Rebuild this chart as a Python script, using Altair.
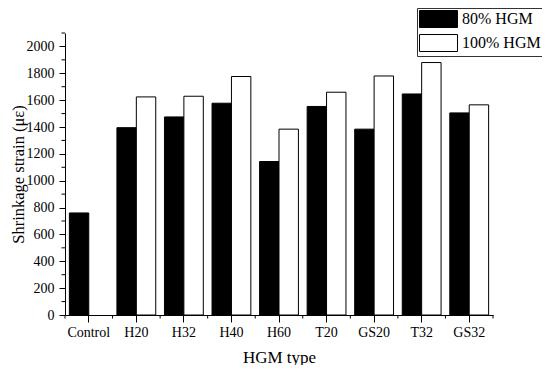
import altair as alt
import pandas as pd

categories = ["Control", "H20", "H32", "H40", "H60", "T20", "GS20", "T32", "GS32"]
series = ["80% HGM", "100% HGM"]
v80 = [760, 1395, 1475, 1577, 1143, 1553, 1384, 1646, 1505]
v100 = [None, 1624, 1629, 1776, 1384, 1659, 1780, 1880, 1565]
y_major = list(range(0, 2001, 200))
y_minor = list(range(100, 2101, 200))

rows = []
for c, a, b in zip(categories, v80, v100):
    if a is not None:
        rows.append({"cat": c, "series": series[0], "strain": a})
    if b is not None:
        rows.append({"cat": c, "series": series[1], "strain": b})
df = pd.DataFrame(rows)

W, H = 428, 282
FONT = "Liberation Serif"
YTITLE = "Shrinkage strain (με)"
XTITLE = "HGM type"

xscale = alt.Scale(domain=categories, paddingInner=0, paddingOuter=0)
yscale = alt.Scale(domain=[0, 2100], nice=False)
x_axis = alt.Axis(labelAngle=0, tickSize=7, labelPadding=3, titlePadding=10)
y_axis = alt.Axis(values=y_major, format="d", tickSize=6, labelPadding=5,
                  titlePadding=0, titleFontSize=16.5)

bars = alt.Chart(df).mark_bar(stroke="black", strokeWidth=1).encode(
    x=alt.X("cat:N", sort=categories, scale=xscale, title=XTITLE, axis=x_axis),
    xOffset=alt.XOffset("series:N", sort=series,
                        scale=alt.Scale(domain=series, paddingInner=0, paddingOuter=0.225)),
    y=alt.Y("strain:Q", scale=yscale, title=YTITLE, axis=y_axis),
    fill=alt.Fill("series:N", sort=series,
                  scale=alt.Scale(domain=series, range=["black", "white"]),
                  legend=alt.Legend(
                      title=None, orient="none", legendX=352, legendY=-25,
                      direction="vertical", fillColor="white", strokeColor="#333333",
                      padding=2, rowPadding=2,
                      symbolType="M-1,-1H3.47V1H-1Z", symbolSize=289,
                      symbolStrokeColor="black", symbolStrokeWidth=1,
                      labelFont=FONT, labelFontSize=16, labelOffset=25,
                      labelColor="black")),
)

minor_x = pd.DataFrame({"cat": categories})
minor_x_last = pd.DataFrame({"cat": categories[-1:]})

xticks0 = alt.Chart(minor_x).mark_rule(color="black", strokeWidth=1).encode(
    x=alt.X("cat:N", sort=categories, scale=xscale, bandPosition=0, title=XTITLE, axis=x_axis),
    y=alt.value(H), y2=alt.value(H + 3.5),
)
xticks1 = alt.Chart(minor_x_last).mark_rule(color="black", strokeWidth=1).encode(
    x=alt.X("cat:N", sort=categories, scale=xscale, bandPosition=1, title=XTITLE, axis=x_axis),
    y=alt.value(H), y2=alt.value(H + 3.5),
)

yticks = alt.Chart(pd.DataFrame({"strain": y_minor})).mark_rule(color="black", strokeWidth=1).encode(
    y=alt.Y("strain:Q", scale=yscale, title=YTITLE, axis=y_axis),
    x=alt.value(0), x2=alt.value(-3.5),
)

chart = alt.layer(bars, xticks0, xticks1, yticks).properties(
    width=W, height=H,
    background="white",
    autosize=alt.AutoSizeParams(type="none"),
    padding={"left": 57, "top": 25, "right": 49, "bottom": 50},
).configure_view(stroke=None).configure_axis(
    grid=False, domainColor="black", tickColor="black", labelColor="black",
    titleColor="black", labelFont=FONT, titleFont=FONT, labelFontSize=14,
    titleFontSize=17, titleFontWeight="normal", domainWidth=1, tickWidth=1,
)

chart.save("out.html", embed_options={"renderer": "svg", "actions": False})
